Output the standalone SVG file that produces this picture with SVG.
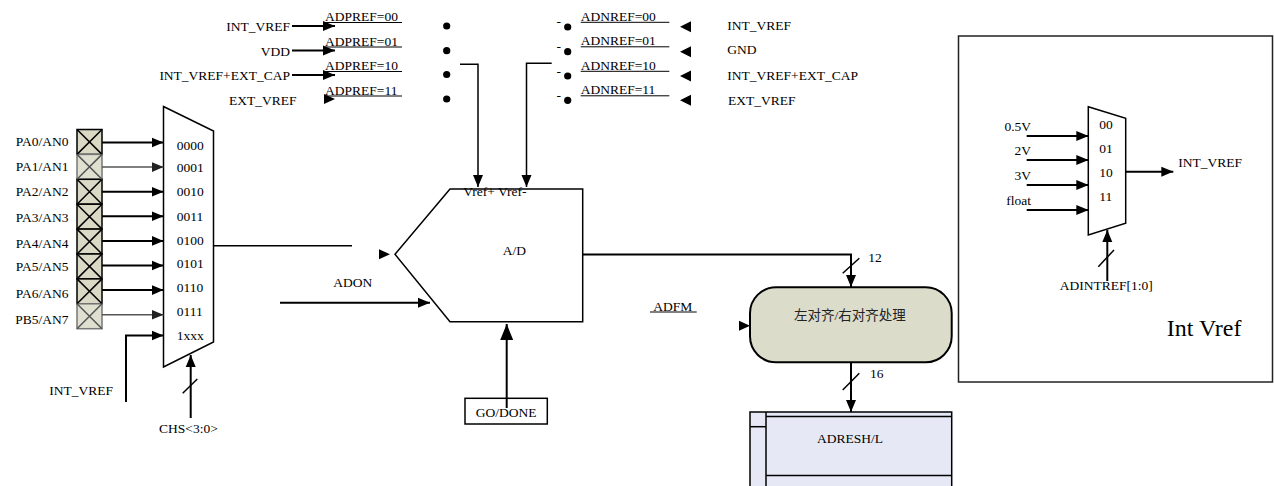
<svg xmlns="http://www.w3.org/2000/svg" width="1274" height="486" viewBox="0 0 1274 486">
<defs>
<style>
.t{font-family:"Liberation Serif","Times New Roman",serif;font-size:13.5px;fill:#000}
.e{text-anchor:end}
.m{text-anchor:middle}
.ln{stroke:#000;stroke-width:2;fill:none}
.th{stroke:#000;stroke-width:1.5;fill:none}
.ul{stroke:#000;stroke-width:1}
.gr{stroke:#555;stroke-width:1.5;fill:none}
.pin{fill:#d9d9c5;stroke:#000;stroke-width:1.5}
.pinl{fill:#e0e0d0;stroke:#777;stroke-width:1.5}
.dot{fill:#000}
</style>
<marker id="arr" markerUnits="userSpaceOnUse" markerWidth="12" markerHeight="11" refX="12" refY="5.5" orient="auto"><path d="M0,0.5 L12,5.5 L0,10.5 Z" fill="#000"/></marker>
<marker id="arrg" markerUnits="userSpaceOnUse" markerWidth="12" markerHeight="11" refX="12" refY="5.5" orient="auto"><path d="M0,0.5 L12,5.5 L0,10.5 Z" fill="#222"/></marker>
<marker id="arrL" markerUnits="userSpaceOnUse" markerWidth="16" markerHeight="14" refX="16" refY="7" orient="auto"><path d="M0,0.5 L16,7 L0,13.5 Z" fill="#000"/></marker>
<path id="ahR" d="M-11,-5 L0,0 L-11,5 Z" fill="#000"/>
<path id="ahL" d="M11,-5.5 L0,0 L11,5.5 Z" fill="#000"/>
</defs>
<rect width="1274" height="486" fill="#fff"/>

<!-- Vref source selection -->
<g id="vref-pos-select">
<text class="t e" x="290" y="31">INT_VREF</text>
<text class="t e" x="290" y="55.5">VDD</text>
<text class="t e" x="290" y="80">INT_VREF+EXT_CAP</text>
<text class="t e" x="296.5" y="104.5">EXT_VREF</text>
<text class="t" x="325" y="21">ADPREF=00</text>
<text class="t" x="325" y="45.5">ADPREF=01</text>
<text class="t" x="325" y="70">ADPREF=10</text>
<text class="t" x="325" y="94.5">ADPREF=11</text>
<line class="ul" x1="325" y1="22.5" x2="402" y2="22.5"/>
<line class="ul" x1="325" y1="47" x2="402" y2="47"/>
<line class="ul" x1="325" y1="71.5" x2="402" y2="71.5"/>
<line class="ul" x1="325" y1="96" x2="402" y2="96"/>
<circle class="dot" cx="446.7" cy="26" r="3.6"/>
<circle class="dot" cx="446.7" cy="50.7" r="3.6"/>
<circle class="dot" cx="446.7" cy="74.5" r="3.6"/>
<circle class="dot" cx="446.7" cy="99" r="3.6"/>
</g>

<g id="vref-neg-select">
<text class="t" x="556.5" y="26">-</text>
<text class="t" x="556.5" y="51">-</text>
<text class="t" x="556.5" y="75.5">-</text>
<text class="t" x="556.5" y="100">-</text>
<circle class="dot" cx="567.7" cy="27" r="3.6"/>
<circle class="dot" cx="567.7" cy="51.7" r="3.6"/>
<circle class="dot" cx="567.7" cy="76" r="3.6"/>
<circle class="dot" cx="567.7" cy="100.3" r="3.6"/>
<text class="t" x="580.7" y="20.7">ADNREF=00</text>
<text class="t" x="580.7" y="45.2">ADNREF=01</text>
<text class="t" x="580.7" y="69.7">ADNREF=10</text>
<text class="t" x="580.7" y="94.2">ADNREF=11</text>
<line class="ul" x1="580.7" y1="22.3" x2="669.3" y2="22.3"/>
<line class="ul" x1="580.7" y1="46.8" x2="669.3" y2="46.8"/>
<line class="ul" x1="580.7" y1="71.3" x2="669.3" y2="71.3"/>
<line class="ul" x1="580.7" y1="95.8" x2="669.3" y2="95.8"/>
<use href="#ahL" x="680" y="26.7"/>
<use href="#ahL" x="680" y="51.7"/>
<use href="#ahL" x="680" y="76"/>
<use href="#ahL" x="680" y="100.3"/>
<text class="t" x="727.3" y="29.5">INT_VREF</text>
<text class="t" x="727.3" y="54.2">GND</text>
<text class="t" x="727.3" y="80">INT_VREF+EXT_CAP</text>
<text class="t" x="728" y="105">EXT_VREF</text>
</g>

<!-- analog pins -->
<g id="pins">
<rect class="pin" x="77" y="129.5" width="25" height="24.9"/>
<rect class="pinl" x="77" y="154.4" width="25" height="24.9"/>
<rect class="pin" x="77" y="179.3" width="25" height="24.9"/>
<rect class="pin" x="77" y="204.2" width="25" height="24.9"/>
<rect class="pin" x="77" y="229.1" width="25" height="24.9"/>
<rect class="pin" x="77" y="254" width="25" height="24.9"/>
<rect class="pin" x="77" y="278.9" width="25" height="24.9"/>
<rect class="pinl" x="77" y="303.8" width="25" height="24.9"/>
<path class="th" d="M77,129.5 L102,154.4 M102,129.5 L77,154.4 M77,179.3 L102,204.2 M102,179.3 L77,204.2 M77,204.2 L102,229.1 M102,204.2 L77,229.1 M77,229.1 L102,254 M102,229.1 L77,254 M77,254 L102,278.9 M102,254 L77,278.9 M77,278.9 L102,303.8 M102,278.9 L77,303.8"/>
<path class="gr" d="M77,154.4 L102,179.3 M102,154.4 L77,179.3 M77,303.8 L102,328.7 M102,303.8 L77,328.7"/>
<text class="t e" x="68.5" y="146">PA0/AN0</text>
<text class="t e" x="68.5" y="171">PA1/AN1</text>
<text class="t e" x="68.5" y="196">PA2/AN2</text>
<text class="t e" x="68.5" y="222">PA3/AN3</text>
<text class="t e" x="68.5" y="247.5">PA4/AN4</text>
<text class="t e" x="68.5" y="271">PA5/AN5</text>
<text class="t e" x="68.5" y="297.5">PA6/AN6</text>
<text class="t e" x="68.5" y="323.5">PB5/AN7</text>
</g>

<g id="chs-mux">
<polygon class="th" points="163.5,106.5 213.5,131 213.5,342 163.5,367" fill="#fff"/>
<text class="t" x="176.7" y="149.5">0000</text>
<text class="t" x="176.7" y="171.5">0001</text>
<text class="t" x="176.7" y="195.5">0010</text>
<text class="t" x="176.7" y="220.5">0011</text>
<text class="t" x="176.7" y="244.5">0100</text>
<text class="t" x="176.7" y="267.5">0101</text>
<text class="t" x="176.7" y="291.5">0110</text>
<text class="t" x="176.7" y="315.5">0111</text>
<text class="t" x="176.7" y="339.5">1xxx</text>
<text class="t" x="49.3" y="394.5">INT_VREF</text>
<text class="t" x="159" y="432.5">CHS&lt;3:0&gt;</text>
</g>

<g id="adc">
<polygon class="th" points="450,189 582.7,189 582.7,321.7 450,321.7 395,254.3"/>
<text class="t" x="463.3" y="195.5">Vref+ Vref-</text>
<text class="t" x="502.7" y="254.5">A/D</text>
<text class="t" x="333.3" y="286.5">ADON</text>
</g>

<g id="go-done">
<rect class="th" x="465" y="398.3" width="82.3" height="25.7"/>
<text class="t m" x="506.2" y="416.5">GO/DONE</text>
</g>

<g id="align">
<rect x="750" y="287.3" width="201.7" height="75" rx="26" ry="26" fill="#dcdccb" stroke="#000" stroke-width="2"/>
<text x="850" y="319.5" text-anchor="middle" style="font-family:'Liberation Serif','Noto Sans CJK SC',serif;font-size:13.5px;fill:#222">左对齐/右对齐处理</text>
<text class="t" x="653.3" y="311">ADFM</text>
<line class="ul" x1="650" y1="312" x2="696.7" y2="312"/>
</g>

<g id="adresh">
<rect x="750" y="412" width="201.7" height="76" fill="#e6e9f5" stroke="#000" stroke-width="1.5"/>
<line class="th" x1="766" y1="416.5" x2="951.7" y2="416.5"/>
<line class="th" x1="766" y1="412" x2="766" y2="488"/>
<line class="th" x1="750" y1="426.7" x2="766" y2="426.7"/>
<line class="th" x1="766" y1="475.5" x2="951.7" y2="475.5"/>
<text class="t m" x="850" y="443">ADRESH/L</text>
</g>

<g id="int-vref">
<rect x="958.5" y="36" width="314" height="346" fill="none" stroke="#222" stroke-width="1.5"/>
<polygon class="th" points="1088.3,106.7 1125.7,118.3 1125.7,223.3 1088.3,235"/>
<text class="t" x="1099.3" y="129">00</text>
<text class="t" x="1099.3" y="153">01</text>
<text class="t" x="1099.3" y="177.3">10</text>
<text class="t" x="1099.3" y="201.3">11</text>
<text class="t e" x="1031" y="131.3">0.5V</text>
<text class="t e" x="1031" y="154.6">2V</text>
<text class="t e" x="1031" y="179.6">3V</text>
<text class="t e" x="1031" y="204.6">float</text>
<text class="t" x="1178.3" y="166.8">INT_VREF</text>
<text class="t m" x="1106.3" y="289.5">ADINTREF[1:0]</text>
<text x="1166.7" y="336" style="font-family:'Liberation Serif','Times New Roman',serif;font-size:24px;fill:#000">Int Vref</text>
</g>

<g id="connectors">
<!-- positive reference inputs -->
<line class="ln" x1="292" y1="26" x2="335" y2="26" marker-end="url(#arr)"/>
<line class="ln" x1="292" y1="50.5" x2="335" y2="50.5" marker-end="url(#arr)"/>
<line class="ln" x1="292" y1="75" x2="335" y2="75" marker-end="url(#arr)"/>
<use href="#ahR" x="335" y="99"/>
<!-- Vref+ / Vref- -->
<polyline class="th" points="460,64.3 478,64.3 478,187" marker-end="url(#arr)"/>
<polyline class="th" points="551.7,63.3 526.5,63.3 526.5,187" marker-end="url(#arr)"/>
<!-- pins to mux -->
<line class="ln" x1="102" y1="142.5" x2="163.5" y2="142.5" marker-end="url(#arr)"/>
<line class="gr" x1="102" y1="167.1" x2="163.5" y2="167.1" marker-end="url(#arrg)"/>
<line class="ln" x1="102" y1="191.7" x2="163.5" y2="191.7" marker-end="url(#arr)"/>
<line class="ln" x1="102" y1="216.3" x2="163.5" y2="216.3" marker-end="url(#arr)"/>
<line class="ln" x1="102" y1="240.9" x2="163.5" y2="240.9" marker-end="url(#arr)"/>
<line class="ln" x1="102" y1="265.5" x2="163.5" y2="265.5" marker-end="url(#arr)"/>
<line class="ln" x1="102" y1="290.1" x2="163.5" y2="290.1" marker-end="url(#arr)"/>
<line class="gr" x1="102" y1="314.7" x2="163.5" y2="314.7" marker-end="url(#arrg)"/>
<polyline class="ln" points="126,402 126,335.5 163.5,335.5" marker-end="url(#arr)"/>
<!-- CHS select -->
<line class="ln" x1="190.7" y1="418" x2="190.7" y2="355" marker-end="url(#arr)"/>
<line class="th" x1="182.7" y1="393.3" x2="197.3" y2="379"/>
<!-- mux to ADC -->
<line class="th" x1="214" y1="245.7" x2="352" y2="245.7"/>
<use href="#ahR" x="390" y="254.3"/>
<line class="ln" x1="280" y1="302.7" x2="430" y2="302.7" marker-end="url(#arr)"/>
<line class="ln" x1="506.7" y1="408" x2="506.7" y2="324" marker-end="url(#arrL)"/>
<!-- ADC to align -->
<polyline class="ln" points="582.7,254.5 851,254.5 851,287" marker-end="url(#arr)"/>
<line class="th" x1="842.7" y1="273.3" x2="859.3" y2="258.3"/>
<text class="t" x="868.3" y="261.5">12</text>
<use href="#ahR" x="750" y="325.7"/>
<line class="ln" x1="851" y1="362.3" x2="851" y2="412" marker-end="url(#arr)"/>
<line class="th" x1="842.7" y1="390" x2="859.3" y2="373.3"/>
<text class="t" x="870" y="377.5">16</text>
<!-- int vref mux -->
<line class="ln" x1="1026.7" y1="136" x2="1088.3" y2="136" marker-end="url(#arr)"/>
<line class="ln" x1="1026.7" y1="160" x2="1088.3" y2="160" marker-end="url(#arr)"/>
<line class="ln" x1="1026.7" y1="185" x2="1088.3" y2="185" marker-end="url(#arr)"/>
<line class="ln" x1="1026.7" y1="210" x2="1088.3" y2="210" marker-end="url(#arr)"/>
<line class="ln" x1="1125.7" y1="171.7" x2="1173.3" y2="171.7" marker-end="url(#arr)"/>
<line class="ln" x1="1107.3" y1="281" x2="1107.3" y2="230" marker-end="url(#arr)"/>
<line class="th" x1="1098.3" y1="266.7" x2="1114" y2="250"/>
</g>
</svg>
